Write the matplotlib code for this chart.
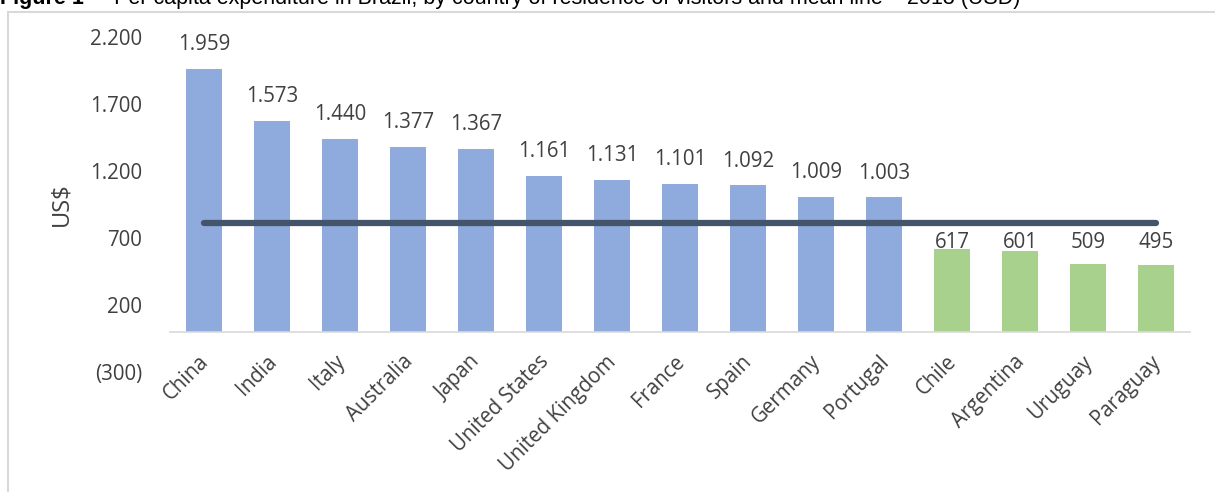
import matplotlib
matplotlib.use('Agg')
from matplotlib import pyplot as plt
from matplotlib.patches import Rectangle
from matplotlib.transforms import ScaledTranslation
import numpy as np

# Data
countries = ['China', 'India', 'Italy', 'Australia', 'Japan', 'United States',
             'United Kingdom', 'France', 'Spain', 'Germany', 'Portugal',
             'Chile', 'Argentina', 'Uruguay', 'Paraguay']
spending = [1959, 1573, 1440, 1377, 1367, 1161, 1131, 1101, 1092, 1009, 1003,
            617, 601, 509, 495]
is_south_america = [False] * 11 + [True] * 4
mean_value = 810
y_ticks = [-300, 200, 700, 1200, 1700, 2200]

title_bold = 'Figure 1'
title_rest = ' –  Per capita expenditure in Brazil, by country of residence of visitors and mean line – 2013 (USD)'

# Styles
blue = '#8FAADC'
green = '#A9D18E'
line_color = '#44546A'
text_color = '#404040'
font = ['Open Sans', 'DejaVu Sans']
plt.rcParams['font.family'] = font
fs = 14.8


def fmt(v):
    s = f'{abs(v):,}'.replace(',', '.')
    return f'({s})' if v < 0 else s


fig = plt.figure(figsize=(12.15, 4.92), dpi=100)
ax = fig.add_axes([0.1399, 0.2439, 0.8395, 0.6809])

# spine position first (it resets tick settings)
for sp in ['top', 'right', 'left']:
    ax.spines[sp].set_visible(False)
ax.spines['bottom'].set_position(('data', 0))
ax.spines['bottom'].set_color('#D9D9D9')
ax.spines['bottom'].set_linewidth(1.2)

x = np.arange(len(countries))
colors = [green if s else blue for s in is_south_america]
ax.bar(x, spending, width=0.54, color=colors, zorder=2)

# mean line
ax.plot([x[0], x[-1]], [mean_value, mean_value], color=line_color, lw=4.5,
        solid_capstyle='round', zorder=3)

# data labels
for xi, v, s in zip(x, spending, is_south_america):
    if s:
        ax.text(xi, 667, fmt(v), ha='center', va='center', fontsize=fs,
                color=text_color, zorder=4)
    else:
        ax.annotate(fmt(v), (xi, v), xytext=(0, 17.5), textcoords='offset points',
                    ha='center', va='center', fontsize=fs, color=text_color,
                    zorder=4, annotation_clip=False)

ax.set_xlim(-0.5, len(countries) - 0.5)
ax.set_ylim(-300, 2200)
ax.set_yticks(y_ticks)
ax.set_yticklabels([fmt(t) for t in y_ticks])
ax.tick_params(axis='y', length=0, pad=20, labelsize=fs, labelcolor=text_color)

ax.set_xticks(x)
ax.set_xticklabels(countries, rotation=45, ha='right', rotation_mode='anchor')
ax.tick_params(axis='x', length=0, pad=14, labelsize=fs, labelcolor=text_color)
shift = ScaledTranslation(-6 / 100, 0, fig.dpi_scale_trans)
for lab in ax.get_xticklabels():
    lab.set_transform(lab.get_transform() + shift)

ax.set_ylabel('US$', fontsize=17, color=text_color, labelpad=12)

# frame and clipped title
fig.add_artist(Rectangle((8 / 1215, -0.01), 1.1, 1 - 12 / 492 + 0.01,
                         transform=fig.transFigure, fill=False,
                         edgecolor='#D9D9D9', lw=1.5))
t1 = fig.text(0.0, 1 - 4 / 492, title_bold, fontsize=15.5, weight='bold',
              family=['Liberation Sans', 'DejaVu Sans'], color='black', va='baseline')
fig.canvas.draw()
bb = t1.get_window_extent()
fig.text(bb.x1 / fig.bbox.width, 1 - 4 / 492, title_rest, fontsize=15.5,
         family=['Liberation Sans', 'DejaVu Sans'], color='black', va='baseline')

fig.savefig('out.png', dpi=100)
